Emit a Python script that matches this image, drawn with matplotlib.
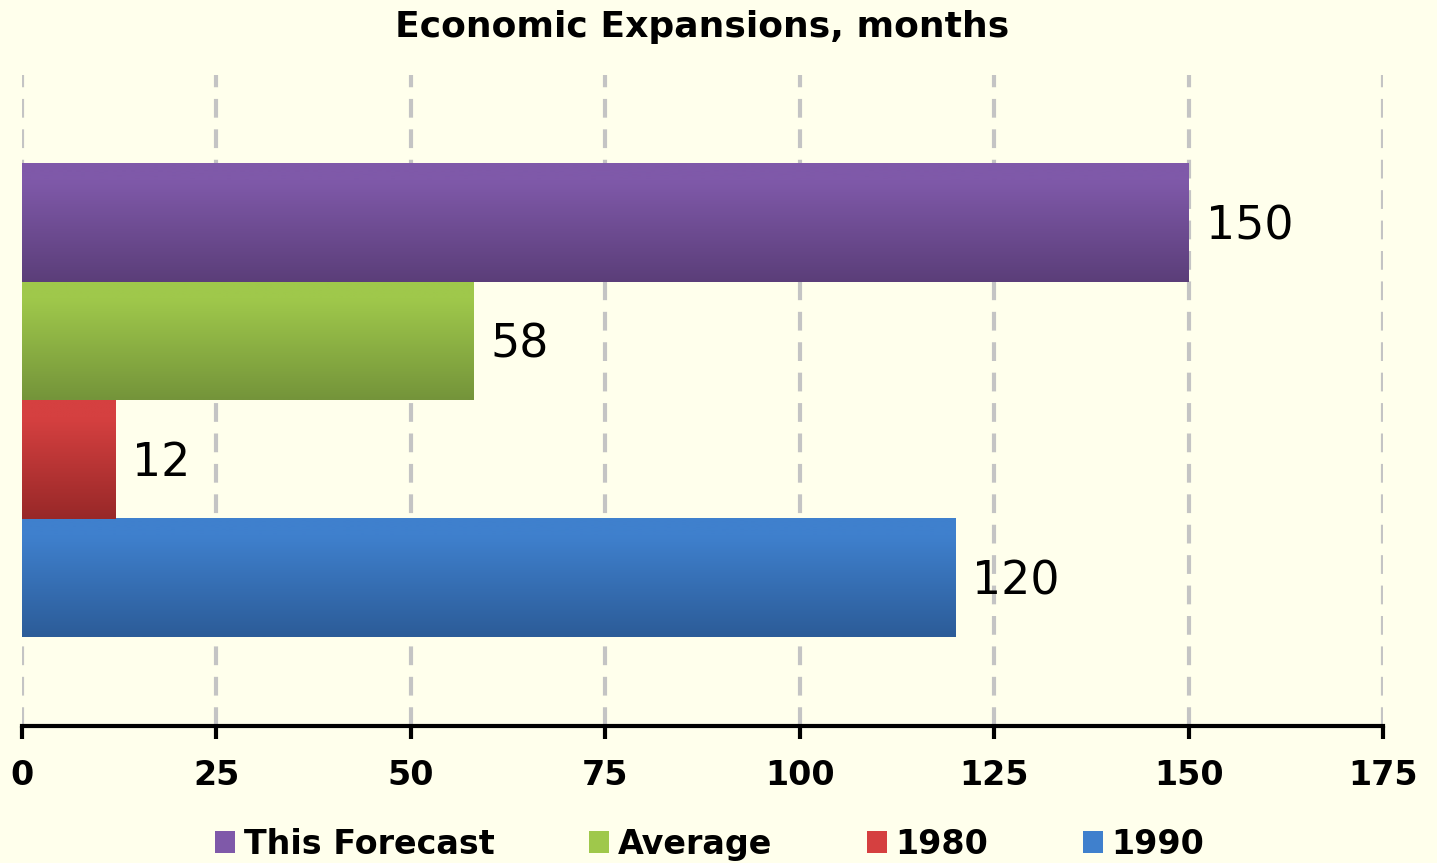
import numpy as np
import matplotlib.pyplot as plt
from matplotlib.patches import Patch
from matplotlib.colors import to_rgb

# data
categories = ['1990', '1980', 'Average', 'This Forecast']
values = [120, 12, 58, 150]
top_colors = ['#3F80CD', '#D54040', '#9FC84B', '#7F59A9']
bottom_colors = ['#2C5C98', '#982828', '#74943A', '#5B3E79']
ticks = [0, 25, 50, 75, 100, 125, 150, 175]

bg = '#FFFFEC'
fig = plt.figure(figsize=(14.37, 8.63), dpi=100, facecolor=bg)
ax = fig.add_axes([22 / 1437, 1 - 726 / 863, (1383 - 22) / 1437, (726 - 75) / 863])
ax.set_facecolor(bg)

ypos = np.arange(len(categories))
bars = ax.barh(ypos, values, height=1.0, color='none', zorder=3)

# vertical gradient in each bar (lighter at top)
for bar, c1, c2 in zip(bars, top_colors, bottom_colors):
    x0, y0 = bar.get_x(), bar.get_y()
    w, h = bar.get_width(), bar.get_height()
    a = np.array(to_rgb(c1))
    b = np.array(to_rgb(c2))
    t = np.linspace(0, 1, 100)[:, None]
    t = np.clip((t - 0.15) / 0.85, 0, 1)
    grad = (a * (1 - t) + b * t)[:, None, :]
    ax.imshow(grad, extent=(x0, x0 + w, y0, y0 + h), aspect='auto',
              origin='upper', zorder=3, interpolation='bilinear')

for v, y in zip(values, ypos):
    ax.text(v + 2.2, y - 0.03, str(v), va='center', ha='left', fontsize=33, zorder=4)

ax.set_xlim(0, 175)
ax.set_ylim(-1.25, 4.25)
ax.set_xticks(ticks)
ax.set_xticklabels([str(t) for t in ticks], fontsize=24, fontweight='bold')
ax.set_yticks([])
ax.tick_params(axis='x', length=9, width=3, pad=15)
ax.grid(axis='x', color='#C4C4C4', linestyle=(0, (4.5, 2.8)), linewidth=3, zorder=1)

for s in ['top', 'right', 'left']:
    ax.spines[s].set_visible(False)
ax.spines['bottom'].set_linewidth(3)
ax.spines['bottom'].set_zorder(5)

ax.set_title('Economic Expansions, months', fontsize=26, fontweight='bold', pad=27)

handles = [Patch(facecolor=top_colors[i], edgecolor='none') for i in [3, 2, 1, 0]]
labels = [categories[i] for i in [3, 2, 1, 0]]
fig.legend(handles, labels, loc='lower center', bbox_to_anchor=(0.494, -0.032), ncol=4,
           frameon=False, prop={'size': 24, 'weight': 'bold'}, handlelength=0.6,
           handleheight=0.65, handletextpad=0.25, columnspacing=2.85)

fig.savefig('out.png', dpi=100, facecolor=bg)
